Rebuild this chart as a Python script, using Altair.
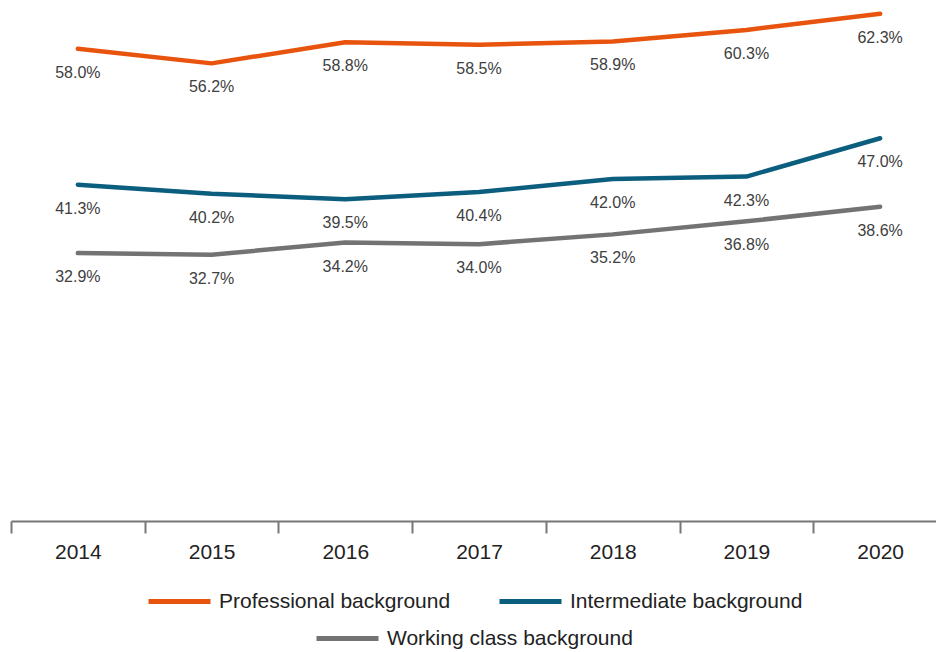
import altair as alt
import pandas as pd

years = ["2014", "2015", "2016", "2017", "2018", "2019", "2020"]
professional = [58.0, 56.2, 58.8, 58.5, 58.9, 60.3, 62.3]
intermediate = [41.3, 40.2, 39.5, 40.4, 42.0, 42.3, 47.0]
working = [32.9, 32.7, 34.2, 34.0, 35.2, 36.8, 38.6]
series = ["Professional background", "Intermediate background", "Working class background"]
colors = ["#E8540E", "#0B5E7E", "#737373"]
legend_x = [135, 486, 303]
legend_y = [560, 560, 597]

rows = []
for name, vals in zip(series, [professional, intermediate, working]):
    for yr, v in zip(years, vals):
        rows.append({"year": yr, "series": name, "value": v, "label": f"{v:.1f}%"})
df = pd.DataFrame(rows)

FONT = "Liberation Sans"

x = alt.X(
    "year:N",
    scale=alt.Scale(type="band", domain=years, paddingInner=0, paddingOuter=0, range=[0, 936]),
    bandPosition=0.5,
    axis=alt.Axis(title=None, tickBand="extent", labelAngle=0),
)
y = alt.Y("value:Q", scale=alt.Scale(domain=[0, 63], nice=False, zero=True), axis=None)

base = alt.Chart(df)

layers = []
for name, col, lx, ly in zip(series, colors, legend_x, legend_y):
    layers.append(
        base.transform_filter(alt.FieldEqualPredicate(field="series", equal=name))
        .mark_line(strokeWidth=4.5, strokeCap="round", strokeJoin="round")
        .encode(
            x=x,
            y=y,
            color=alt.Color(
                "series:N",
                scale=alt.Scale(domain=[name], range=[col]),
                legend=alt.Legend(
                    orient="none",
                    legendX=lx,
                    legendY=ly,
                    direction="horizontal",
                    title=None,
                    symbolType="stroke",
                    symbolSize=3844,
                    symbolStrokeWidth=5,
                    labelFontSize=21,
                    labelFont=FONT,
                    labelColor="#222222",
                    labelOffset=6,
                    labelLimit=400,
                ),
            ),
        )
    )

labels = base.mark_text(dy=24, fontSize=16, font=FONT, color="#404040", baseline="middle").encode(
    x=x, y=y, text="label:N"
)

chart = (
    alt.layer(*layers, labels)
    .resolve_scale(color="independent")
    .properties(
        width=925,
        height=513,
        autosize=alt.AutoSizeParams(type="none"),
        padding={"left": 3, "top": 0, "right": 0, "bottom": 140},
    )
    .configure_view(stroke=None)
    .configure_axis(
        domainColor="#777777",
        domainWidth=2,
        tickColor="#777777",
        tickWidth=2,
        tickSize=12,
        labelFontSize=21,
        labelFont=FONT,
        labelColor="#222222",
        labelPadding=8,
        grid=False,
    )
)

chart.save("out.html", embed_options={"renderer": "svg", "actions": False})
